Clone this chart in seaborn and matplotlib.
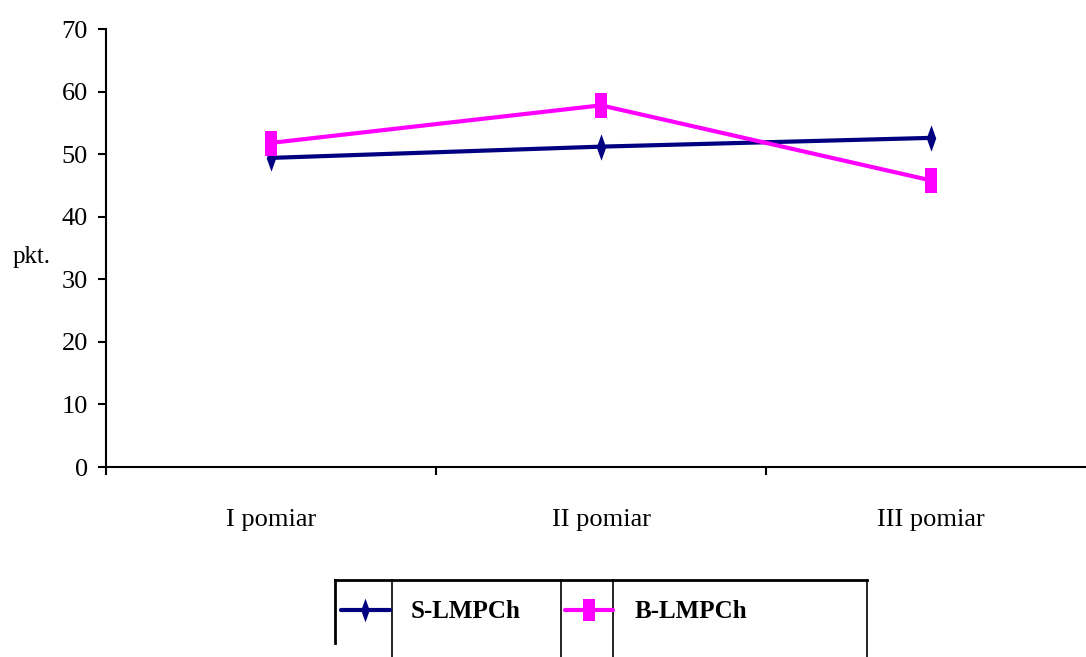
import matplotlib
matplotlib.use("Agg")
import matplotlib.pyplot as plt
import seaborn as sns
import pandas as pd
from matplotlib.path import Path
from matplotlib.lines import Line2D

categories = ["I pomiar", "II pomiar", "III pomiar"]
s_lmpch = [49.4, 51.2, 52.6]
b_lmpch = [51.8, 57.8, 45.8]
series_names = ["S-LMPCh", "B-LMPCh"]
colors = ["#000080", "#FF00FF"]
y_ticks = [0, 10, 20, 30, 40, 50, 60, 70]

sns.set_theme(style="white")
plt.rcParams['font.family'] = ['Liberation Serif', 'DejaVu Serif']
plt.rcParams['text.color'] = 'black'

diamond = Path([(-0.36, 0), (0, 1), (0.36, 0), (0, -1), (-0.36, 0)],
               [Path.MOVETO, Path.LINETO, Path.LINETO, Path.LINETO, Path.CLOSEPOLY])
rect = Path([(-0.5, -1), (0.5, -1), (0.5, 1), (-0.5, 1), (-0.5, -1)],
            [Path.MOVETO, Path.LINETO, Path.LINETO, Path.LINETO, Path.CLOSEPOLY])
markers = [diamond, rect]
msizes = [19, 18]

W, H = 1086, 657
fig = plt.figure(figsize=(W / 100, H / 100), dpi=100)
left, right, bottom, top = 106, 1096, 467, 29
ax = fig.add_axes([left / W, 1 - bottom / H, (right - left) / W, (bottom - top) / H])

df = pd.DataFrame({"cat": categories * 2,
                   "val": s_lmpch + b_lmpch,
                   "series": [series_names[0]] * 3 + [series_names[1]] * 3})
for name, col, mk, ms in zip(series_names, colors, markers, msizes):
    sub = df[df["series"] == name]
    sns.lineplot(data=sub, x="cat", y="val", ax=ax, color=col, lw=3,
                 marker=mk, markersize=ms, markeredgewidth=0, sort=False,
                 legend=False)

ax.set_xlim(-0.5, 2.5)
ax.set_ylim(0, 70)
ax.set_yticks(y_ticks)
ax.set_xticks([0, 1, 2])
ax.set_xticklabels(categories)
ax.set_xticks([-0.5, 0.5, 1.5, 2.5], minor=True)
ax.tick_params(axis="x", which="major", length=0, pad=30, labelsize=19, colors="black")
ax.tick_params(axis="x", which="minor", length=6, width=1.5, direction="out", bottom=True, color="black")
ax.tick_params(axis="y", length=6, width=1.5, direction="out", left=True, pad=7, labelsize=19, colors="black")
for s in ["top", "right"]:
    ax.spines[s].set_visible(False)
for s in ["left", "bottom"]:
    ax.spines[s].set_color("black")
    ax.spines[s].set_linewidth(1.5)
ax.set_xlabel("")
ax.set_ylabel("pkt.", rotation=0, fontsize=18, color="black")
ax.yaxis.set_label_coords(-0.075, 0.455)
ax.grid(False)

# legend
handles = [Line2D([], [], color=c, lw=3, marker=m, markersize=ms * 0.9, markeredgewidth=0)
           for c, m, ms in zip(colors, markers, msizes)]
leg = fig.legend(handles, series_names, loc="center left",
                 bbox_to_anchor=(341 / W, 1 - 612 / H), ncol=2, frameon=False,
                 borderpad=0, borderaxespad=0, handlelength=1.95, handletextpad=0.85,
                 columnspacing=1.75, labelcolor="black",
                 prop={"family": "Liberation Serif", "weight": "bold", "size": 18})

def fl(x0, y0, x1, y1, lw=2):
    fig.add_artist(Line2D([x0 / W, x1 / W], [1 - y0 / H, 1 - y1 / H], color="black", lw=lw,
                          transform=fig.transFigure, solid_capstyle="projecting"))

fl(335, 580, 867, 580)
fl(335, 580, 335, 643)
for xx in [392, 561, 613, 867]:
    fl(xx, 580, xx, 660, lw=1.2)

fig.savefig("out.png", dpi=100)
